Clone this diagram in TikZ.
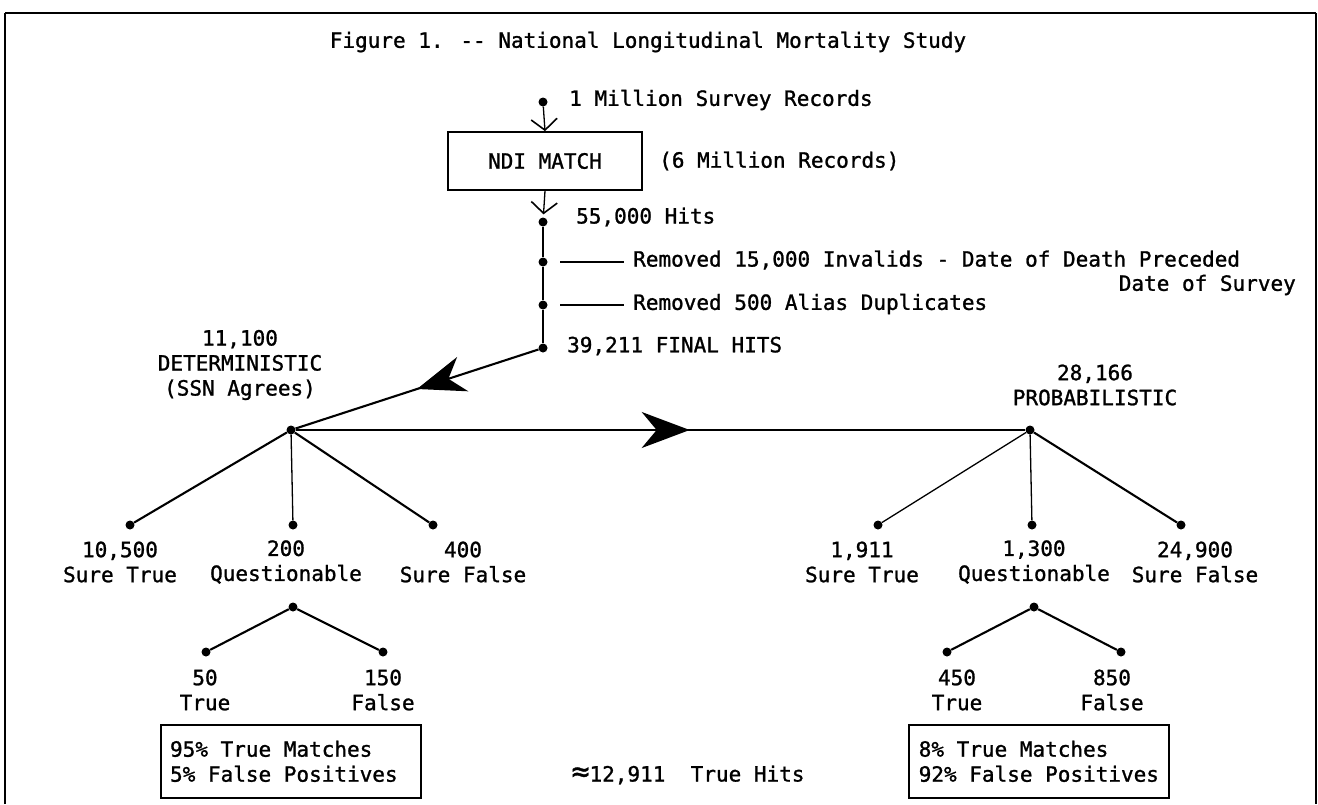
\documentclass[tikz,border=0pt]{standalone}
\usepackage{fontspec}
\newfontfamily\tw[FakeBold=1.2]{DejaVu Sans Mono}
\usetikzlibrary{arrows.meta,decorations.markings}
\begin{document}
\begin{tikzpicture}[x=1pt,y=-1pt,
  txt/.style={font=\tw\fontsize{21}{25}\selectfont, inner sep=1pt, align=center},
  dot/.style={circle, fill=black, inner sep=0pt, minimum size=9pt},
  mainln/.style={line width=2.1pt},
  thinln/.style={line width=1.3pt},
  bigarrow/.style={postaction={decorate}, decoration={markings, mark=at position #1 with {\arrow{Stealth[length=48pt,width=36pt,inset=15pt]}}}},
  barb/.style={-{Straight Barb[length=11pt,width=26pt,line width=1.6pt]}},
  sumbox/.style={draw, line width=1.7pt, txt, align=left, anchor=north west, minimum height=73pt, minimum width=260pt}]
\useasboundingbox (0,0) rectangle (1318,804);
\draw[line width=1.6pt] (5,804) -- (5,13);
\draw[line width=2.6pt] (5,13) -- (1316,13);
\draw[line width=1.6pt] (1316,13) -- (1316,804);

\node[txt] (title) at (648,42) {Figure 1. -{}- National Longitudinal Mortality Study};

\node[dot] (d1) at (543,102) {};
\node[txt, anchor=west] (l1) at (568,100) {1 Million Survey Records};
\node[draw, line width=1.7pt, minimum width=194pt, minimum height=58pt, txt] (ndi) at (545,161) {NDI MATCH};
\node[txt, anchor=west] (l6) at (658,161) {(6 Million Records)};
\node[dot] (d55) at (543,222) {};
\node[txt, anchor=west] (l55) at (575,217) {55,000 Hits};
\node[dot] (d15) at (543,262) {};
\node[txt, anchor=west] (l15) at (632,260) {Removed 15,000 Invalids - Date of Death Preceded};
\node[txt, anchor=east] (l15b) at (1297,285) {Date of Survey};
\node[dot] (d500) at (543,305) {};
\node[txt, anchor=west] (l500) at (632,304) {Removed 500 Alias Duplicates};
\node[dot] (dF) at (543,348) {};
\node[txt, anchor=west] (lF) at (566,346) {39,211 FINAL HITS};

\node[dot] (D) at (291,430) {};
\node[txt] (lD) at (240,365) {11,100\\DETERMINISTIC\\(SSN Agrees)};
\node[dot] (P) at (1030,430) {};
\node[txt] (lP) at (1095,385) {28,166\\PROBABILISTIC};

\node[dot] (c1) at (130,525) {};
\node[txt] (lc1) at (120,562) {10,500\\Sure True};
\node[dot] (c2) at (293,525) {};
\node[txt] (lc2) at (286,562) {200\\Questionable};
\node[dot] (c3) at (433,525) {};
\node[txt] (lc3) at (463,562) {400\\Sure False};
\node[dot] (c4) at (878,525) {};
\node[txt] (lc4) at (862,562) {1,911\\Sure True};
\node[dot] (c5) at (1032,525) {};
\node[txt] (lc5) at (1034,562) {1,300\\Questionable};
\node[dot] (c6) at (1181,525) {};
\node[txt] (lc6) at (1195,562) {24,900\\Sure False};

\node[dot] (q1) at (293,607) {};
\node[dot] (g1) at (206,652) {};
\node[dot] (g2) at (383,652) {};
\node[txt] (lg1) at (205,690) {50\\True};
\node[txt] (lg2) at (383,690) {150\\False};
\node[dot] (q2) at (1034,607) {};
\node[dot] (g3) at (947,652) {};
\node[dot] (g4) at (1121,652) {};
\node[txt] (lg3) at (957,690) {450\\True};
\node[txt] (lg4) at (1112,690) {850\\False};

\node[sumbox] (b1) at (160,724) {95\% True Matches\\5\% False Positives\hspace*{14pt}};
\node[sumbox] (b2) at (908,724) {8\% True Matches\\92\% False Positives};
\node[txt] (tot) at (688,775) {{\fontsize{30}{30}\selectfont ≈}12,911\ \ True Hits};

\draw[thinln, barb] (d1) -- (ndi.north);
\draw[thinln, barb, shorten >=3pt] (ndi.south) -- (d55);
\draw[thinln] (d55) -- (d15) -- (d500) -- (dF);
\draw[line width=1.8pt] ([xshift=17pt]d15.center) -- ([xshift=-8pt]l15.west |- d15.center);
\draw[line width=1.8pt] ([xshift=17pt]d500.center) -- ([xshift=-8pt]l500.west |- d500.center);

\draw[mainln, bigarrow=0.5] (dF) -- (D);
\draw[mainln, bigarrow=0.54] (D) -- (P);
\draw[mainln] (D) -- (c1);
\draw[thinln] (D) -- (c2);
\draw[mainln] (D) -- (c3);
\draw[thinln] (P) -- (c4);
\draw[thinln] (P) -- (c5);
\draw[mainln] (P) -- (c6);
\draw[mainln] (q1) -- (g1);
\draw[mainln] (q1) -- (g2);
\draw[mainln] (q2) -- (g3);
\draw[mainln] (q2) -- (g4);
\end{tikzpicture}
\end{document}
